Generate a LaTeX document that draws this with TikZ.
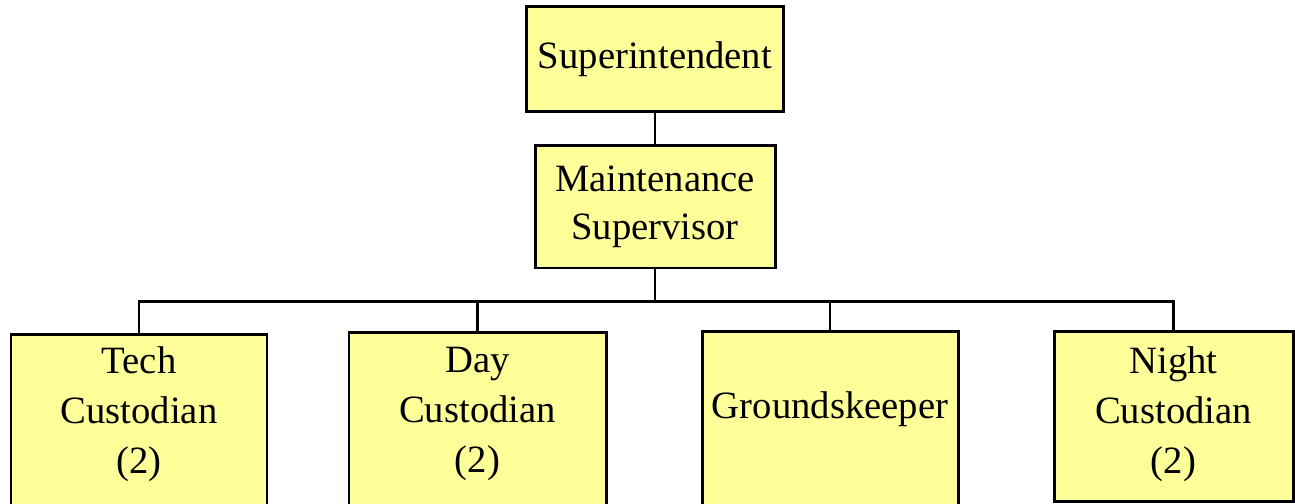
\documentclass[tikz,border=0pt]{standalone}
\usepackage{fontspec}
\setmainfont{Liberation Serif}
\usepackage{tikz}
\usetikzlibrary{positioning,calc}

\definecolor{boxyellow}{RGB}{255,255,153}

\tikzset{
  post/.style={draw=black,line width=1.7pt,fill=boxyellow,align=center,
    inner sep=0pt,font=\fontsize{22}{27}\selectfont},
  staff/.style={post,anchor=north,font=\fontsize{22}{28.5}\selectfont},
  link/.style={line width=1.6pt,black}
}

\begin{document}
\begin{tikzpicture}
\useasboundingbox (0,0) rectangle (25.9,10.08);
\clip (0,0) rectangle (25.9,10.08);
% top of the chart
\node [post,minimum width=5.14cm,minimum height=2.10cm] (super) at (13.10,8.89) {Superintendent};
\node [post,minimum width=4.80cm,minimum height=2.44cm] (maint) at (13.10,5.94) {Maintenance\\Supervisor};
% staff row
\node [staff,minimum width=5.12cm,minimum height=3.50cm,text depth=0.47cm] (tech) at (2.78,3.42) {Tech\\Custodian\\(2)};
\node [staff,minimum width=5.14cm,minimum height=3.50cm,text depth=0.41cm] (day) at (9.55,3.46) {Day\\Custodian\\(2)};
\node [staff,minimum width=5.12cm,minimum height=3.50cm,text depth=0.57cm] (grounds) at (16.60,3.48) {Groundskeeper};
\node [staff,minimum width=4.78cm,minimum height=3.40cm,text depth=0.27cm] (night) at (23.47,3.48) {Night\\Custodian\\(2)};
% connectors
\coordinate (bar) at ($(maint.south)+(0,-0.64)$);
\draw [link] (super.south) -- (maint.north);
\draw [link] (maint.south) -- (bar);
\draw [link] (tech.north) |- (bar) -| (night.north);
\draw [link] (day.north) -- (day.north |- bar);
\draw [link] (grounds.north) -- (grounds.north |- bar);
\end{tikzpicture}
\end{document}
